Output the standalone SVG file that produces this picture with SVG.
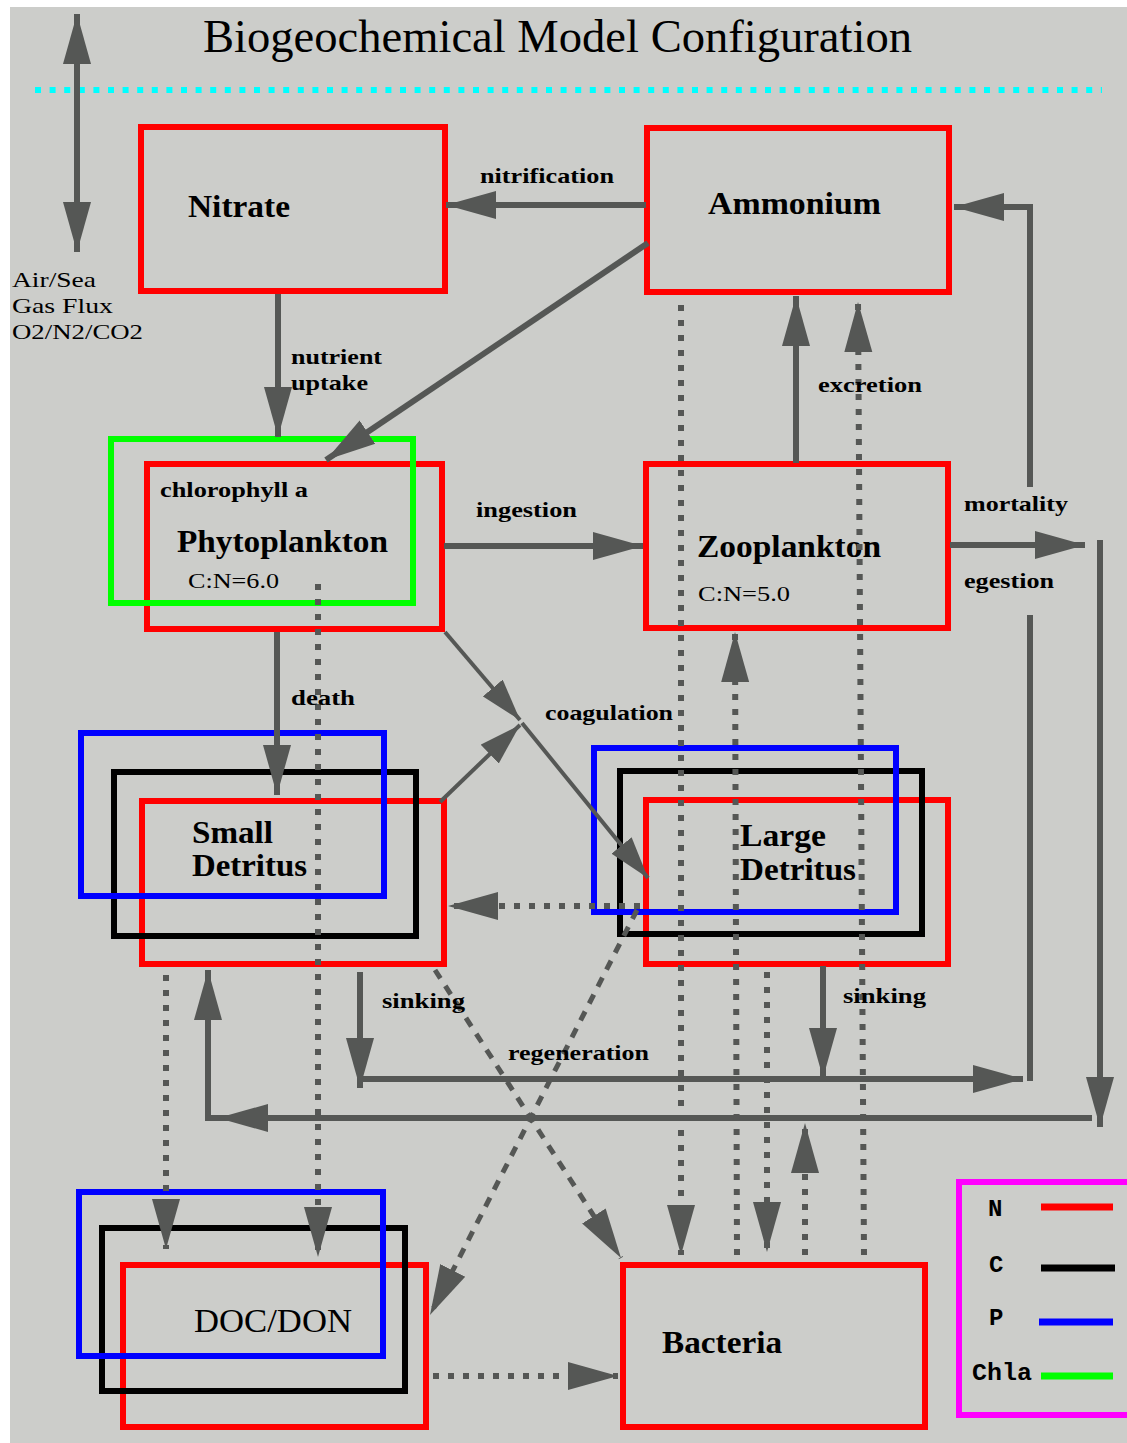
<svg xmlns="http://www.w3.org/2000/svg" width="1127" height="1443" viewBox="0 0 1127 1443">
  <defs>
    <style>
      .bg{fill:#cccdca}
      .box{fill:none;stroke-width:6}
      .n{stroke:#ff0000}
      .c{stroke:#000000}
      .p{stroke:#0000ff}
      .chl{stroke:#00ff00}
      .ln{fill:none;stroke:#555755;stroke-width:6}
      .thin{stroke-width:4}
      .dot{stroke-dasharray:6 9}
      .dash{stroke-dasharray:10 9;stroke-width:5}
      text{font-family:"Liberation Serif","Times New Roman",serif;fill:#000}
      .title{font-size:46px}
      .nm{font-size:32px;font-weight:bold}
      .lb{font-size:21px;font-weight:bold}
      .sm{font-size:22px}
      .mono{font-family:"Liberation Mono","Courier New",monospace;font-size:24px;font-weight:bold}
    </style>
    <marker id="ah" markerUnits="userSpaceOnUse" viewBox="-50 -15 50 30" markerWidth="50" markerHeight="30" refX="0" refY="0" orient="auto-start-reverse">
      <path d="M0,0 L-50,-14 L-50,14 Z" fill="#555755"/>
    </marker>
    <marker id="ahs" markerUnits="userSpaceOnUse" viewBox="-42 -13 42 26" markerWidth="42" markerHeight="26" refX="0" refY="0" orient="auto">
      <path d="M0,0 L-42,-13 L-42,13 Z" fill="#555755"/>
    </marker>
  </defs>

  <rect width="1127" height="1443" fill="#ffffff"/>
  <rect class="bg" x="10" y="7" width="1117" height="1436"/>

  <!-- title and sea surface -->
  <g id="title">
    <text class="title" x="203" y="52" textLength="709" lengthAdjust="spacingAndGlyphs">Biogeochemical Model Configuration</text>
    <line x1="35" y1="90" x2="1102" y2="90" stroke="#00ffff" stroke-width="6" stroke-dasharray="6 8.6"/>
  </g>

  <g id="air-sea-label">
    <text class="sm" x="12" y="287" textLength="84" lengthAdjust="spacingAndGlyphs">Air/Sea</text>
    <text class="sm" x="12" y="313" textLength="101" lengthAdjust="spacingAndGlyphs">Gas Flux</text>
    <text class="sm" x="12" y="339" textLength="131" lengthAdjust="spacingAndGlyphs">O2/N2/CO2</text>
  </g>

  <!-- compartments -->
  <g id="nitrate">
    <rect class="box n" x="141" y="127" width="304" height="164"/>
    <text class="nm" x="188" y="217" textLength="102" lengthAdjust="spacingAndGlyphs">Nitrate</text>
  </g>
  <g id="ammonium">
    <rect class="box n" x="647" y="128" width="302" height="164"/>
    <text class="nm" x="708" y="214" textLength="173" lengthAdjust="spacingAndGlyphs">Ammonium</text>
  </g>
  <g id="phytoplankton">
    <rect class="box n" x="147" y="464" width="295" height="165"/>
    <rect class="box chl" x="111" y="439" width="302" height="164"/>
    <text class="lb" x="160" y="497" textLength="148" lengthAdjust="spacingAndGlyphs">chlorophyll a</text>
    <text class="nm" x="177" y="552" textLength="211" lengthAdjust="spacingAndGlyphs">Phytoplankton</text>
    <text class="sm" x="188" y="588" textLength="91" lengthAdjust="spacingAndGlyphs">C:N=6.0</text>
  </g>
  <g id="zooplankton">
    <rect class="box n" x="646" y="464" width="302" height="164"/>
    <text class="nm" x="697" y="557" textLength="184" lengthAdjust="spacingAndGlyphs">Zooplankton</text>
    <text class="sm" x="698" y="601" textLength="92" lengthAdjust="spacingAndGlyphs">C:N=5.0</text>
  </g>
  <g id="small-detritus">
    <rect class="box n" x="142" y="801" width="302" height="163"/>
    <rect class="box c" x="114" y="772" width="302" height="164"/>
    <rect class="box p" x="81" y="733" width="303" height="163"/>
    <text class="nm" x="192" y="843" textLength="81" lengthAdjust="spacingAndGlyphs">Small</text>
    <text class="nm" x="192" y="876" textLength="115" lengthAdjust="spacingAndGlyphs">Detritus</text>
  </g>
  <g id="large-detritus">
    <rect class="box n" x="646" y="800" width="302" height="164"/>
    <rect class="box c" x="620" y="771" width="302" height="163"/>
    <rect class="box p" x="594" y="748" width="302" height="164"/>
    <text class="nm" x="740" y="846" textLength="86" lengthAdjust="spacingAndGlyphs">Large</text>
    <text class="nm" x="740" y="880" textLength="116" lengthAdjust="spacingAndGlyphs">Detritus</text>
  </g>
  <g id="doc-don">
    <rect class="box n" x="123" y="1265" width="303" height="162"/>
    <rect class="box c" x="102" y="1228" width="303" height="163"/>
    <rect class="box p" x="79" y="1192" width="304" height="164"/>
    <text x="194" y="1332" font-size="34" textLength="158" lengthAdjust="spacingAndGlyphs">DOC/DON</text>
  </g>
  <g id="bacteria">
    <rect class="box n" x="623" y="1265" width="302" height="162"/>
    <text class="nm" x="662" y="1353" textLength="120" lengthAdjust="spacingAndGlyphs">Bacteria</text>
  </g>

  <!-- legend -->
  <g id="legend">
    <rect fill="none" stroke="#ff00ff" stroke-width="6" x="959" y="1182" width="180" height="233"/>
    <text class="mono" x="988" y="1216">N</text>
    <text class="mono" x="989" y="1272">C</text>
    <text class="mono" x="989" y="1325">P</text>
    <text class="mono" x="972" y="1380" textLength="60" lengthAdjust="spacingAndGlyphs">Chla</text>
    <line x1="1041" y1="1207" x2="1113" y2="1207" stroke="#ff0000" stroke-width="7"/>
    <line x1="1041" y1="1268" x2="1115" y2="1268" stroke="#000000" stroke-width="7"/>
    <line x1="1039" y1="1322" x2="1113" y2="1322" stroke="#0000ff" stroke-width="7"/>
    <line x1="1041" y1="1376" x2="1113" y2="1376" stroke="#00ff00" stroke-width="7"/>
  </g>

  <!-- fluxes between compartments -->
  <g id="connectors">
    <!-- solid fluxes -->
    <path class="ln" d="M77,14 L77,252" marker-start="url(#ah)" marker-end="url(#ah)"/>
    <path class="ln" d="M646,205 L446,205" marker-end="url(#ah)"/>
    <path class="ln" d="M648,243 L326,460" stroke-width="5" marker-end="url(#ah)"/>
    <path class="ln" d="M278,294 L278,437" marker-end="url(#ah)"/>
    <path class="ln" d="M444,546 L643,546" marker-end="url(#ah)"/>
    <path class="ln" d="M796,463 L796,296" marker-end="url(#ah)"/>
    <path class="ln" d="M950,545 L1085,545" marker-end="url(#ah)"/>
    <path class="ln" d="M1030,487 L1030,207 L954,207" marker-end="url(#ah)"/>
    <path class="ln" d="M1030,615 L1030,1081"/>
    <path class="ln" d="M360,1079 L1023,1079" marker-end="url(#ah)"/>
    <path class="ln" d="M360,972 L360,1088" marker-end="url(#ah)"/>
    <path class="ln" d="M823,966 L823,1078" marker-end="url(#ah)"/>
    <path class="ln" d="M1100,540 L1100,1127" marker-end="url(#ah)"/>
    <path class="ln" d="M1092,1118 L208,1118 L208,970" marker-end="url(#ah)"/>
    <path class="ln" d="M262,1118 L218,1118" marker-end="url(#ah)"/>
    <path class="ln" d="M277,632 L277,795" marker-end="url(#ah)"/>
    <!-- coagulation -->
    <path class="ln thin" d="M445,632 L520,720" marker-end="url(#ahs)"/>
    <path class="ln thin" d="M440,802 L520,725" marker-end="url(#ahs)"/>
    <path class="ln thin" d="M522,723 L648,878" marker-end="url(#ahs)"/>
    <!-- dotted fluxes -->
    <path class="ln dot" d="M681,305 L681,1255" marker-end="url(#ah)"/>
    <path class="ln dot" d="M864,1255 L858,302" marker-end="url(#ah)"/>
    <path class="ln dot" d="M737,1255 L735,632" marker-end="url(#ah)"/>
    <path class="ln dot" d="M767,972 L767,1252" marker-end="url(#ah)"/>
    <path class="ln dot" d="M805,1255 L805,1123" marker-end="url(#ah)"/>
    <path class="ln dot" d="M318,584 L318,1257" marker-end="url(#ah)"/>
    <path class="ln dot" d="M166,975 L166,1249" marker-end="url(#ah)"/>
    <path class="ln dot" d="M640,906 L448,906" marker-end="url(#ah)"/>
    <path class="ln dot" d="M433,1376 L618,1376" marker-end="url(#ah)"/>
    <!-- regeneration -->
    <path class="ln dash" d="M435,970 L621,1258" marker-end="url(#ah)"/>
    <path class="ln dash" d="M637,910 L430,1315" marker-end="url(#ah)"/>

    <!-- flux labels -->
    <text class="lb" x="480" y="183" textLength="134" lengthAdjust="spacingAndGlyphs">nitrification</text>
    <text class="lb" x="291" y="364" textLength="91" lengthAdjust="spacingAndGlyphs">nutrient</text>
    <text class="lb" x="291" y="390" textLength="77" lengthAdjust="spacingAndGlyphs">uptake</text>
    <text class="lb" x="476" y="517" textLength="101" lengthAdjust="spacingAndGlyphs">ingestion</text>
    <text class="lb" x="818" y="392" textLength="104" lengthAdjust="spacingAndGlyphs">excretion</text>
    <text class="lb" x="964" y="511" textLength="104" lengthAdjust="spacingAndGlyphs">mortality</text>
    <text class="lb" x="964" y="588" textLength="90" lengthAdjust="spacingAndGlyphs">egestion</text>
    <text class="lb" x="291" y="705" textLength="64" lengthAdjust="spacingAndGlyphs">death</text>
    <text class="lb" x="545" y="720" textLength="128" lengthAdjust="spacingAndGlyphs">coagulation</text>
    <text class="lb" x="382" y="1008" textLength="83" lengthAdjust="spacingAndGlyphs">sinking</text>
    <text class="lb" x="843" y="1003" textLength="83" lengthAdjust="spacingAndGlyphs">sinking</text>
    <text class="lb" x="508" y="1060" textLength="141" lengthAdjust="spacingAndGlyphs">regeneration</text>
  </g>
</svg>
